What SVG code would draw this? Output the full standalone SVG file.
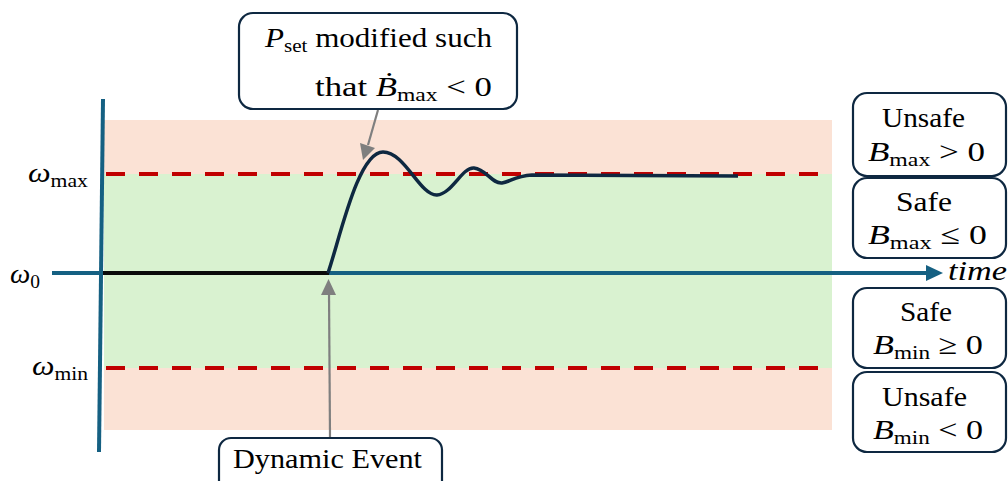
<svg xmlns="http://www.w3.org/2000/svg" width="1008" height="481" viewBox="0 0 1008 481">
<style>
text{font-family:'Liberation Serif',Tinos,'Times New Roman',Times,'Nimbus Roman','Nimbus Roman No9 L',FreeSerif,'Noto Serif','DejaVu Serif','Bitstream Vera Serif',serif;font-size:28px;fill:#000}
.i{font-style:italic}
.s{font-size:19px}
.box{fill:#fff;stroke:#0e2841;stroke-width:2.2}
.axis{stroke:#156082;stroke-width:4;fill:none}
.dash{stroke:#c00000;stroke-width:4;stroke-dasharray:19 14;fill:none}
.ptr{stroke:#7f7f7f;stroke-width:2.2;fill:none}
.ptrh{fill:#7f7f7f}
</style>
<rect width="1008" height="481" fill="#fff"/>
<g id="regions">
<rect x="104" y="120" width="728" height="310" fill="#fbe2d5"/>
<rect x="104" y="174" width="728" height="194" fill="#d9f2d0"/>
<line class="dash" x1="106" y1="174" x2="832" y2="174"/>
<line class="dash" x1="106" y1="368" x2="832" y2="368"/>
</g>
<g id="axes">
<line class="axis" x1="103" y1="99" x2="99" y2="452"/>
<line class="axis" x1="52" y1="273" x2="928" y2="273"/>
<polygon points="926,265 943,273 926,281" fill="#156082"/>
<text class="i" x="948" y="280" textLength="59" lengthAdjust="spacingAndGlyphs">time</text>
</g>
<g id="labels">
<text x="28" y="182" textLength="60" lengthAdjust="spacingAndGlyphs"><tspan class="i">ω</tspan><tspan class="s" dy="5">max</tspan></text>
<text x="10" y="283" textLength="30" lengthAdjust="spacingAndGlyphs"><tspan class="i">ω</tspan><tspan class="s" dy="5">0</tspan></text>
<text x="32" y="375" textLength="56" lengthAdjust="spacingAndGlyphs"><tspan class="i">ω</tspan><tspan class="s" dy="5">min</tspan></text>
</g>
<g id="signal">
<line x1="103" y1="273" x2="329" y2="273" stroke="#0a0a0a" stroke-width="4"/>
<path d="M328,273 C340,238 358,152 383,152 C405,152 420,196 437,195 C452,194 462,167 474,168 C486,169 492,184 502,183 C510,182 515,176 532,175 L738,176" fill="none" stroke="#0e2841" stroke-width="3.5" stroke-linejoin="round"/>
</g>
<g id="connectors">
<line class="ptr" x1="330" y1="437" x2="329" y2="292"/>
<polygon class="ptrh" points="328.5,279 321,295 336,295"/>
<line class="ptr" x1="378" y1="110" x2="368" y2="145"/>
<polygon class="ptrh" points="363,160 360,143 375,148"/>
</g>
<g id="callout-pset">
<rect class="box" x="239" y="13" width="278" height="96" rx="14"/>
<text x="265" y="47" textLength="227" lengthAdjust="spacingAndGlyphs"><tspan class="i">P</tspan><tspan class="s" dy="5">set</tspan><tspan dy="-5"> modified such</tspan></text>
<text x="315" y="96" textLength="177" lengthAdjust="spacingAndGlyphs">that <tspan class="i">Ḃ</tspan><tspan class="s" dy="5">max</tspan><tspan dy="-5"> &lt; 0</tspan></text>
</g>
<g id="dynamic-event">
<rect class="box" x="219" y="438" width="223" height="56" rx="12"/>
<text x="233" y="468" textLength="189" lengthAdjust="spacingAndGlyphs">Dynamic Event</text>
</g>
<g id="unsafe-max">
<rect class="box" x="853" y="93" width="153" height="83" rx="14"/>
<text x="882" y="127" textLength="83" lengthAdjust="spacingAndGlyphs">Unsafe</text>
<text x="868" y="161" textLength="117" lengthAdjust="spacingAndGlyphs"><tspan class="i">B</tspan><tspan class="s" dy="5">max</tspan><tspan dy="-5"> &gt; 0</tspan></text>
</g>
<g id="safe-max">
<rect class="box" x="853" y="178" width="153" height="80" rx="14"/>
<text x="896" y="211" textLength="56" lengthAdjust="spacingAndGlyphs">Safe</text>
<text x="868" y="244" textLength="119" lengthAdjust="spacingAndGlyphs"><tspan class="i">B</tspan><tspan class="s" dy="5">max</tspan><tspan dy="-5"> ≤ 0</tspan></text>
</g>
<g id="safe-min">
<rect class="box" x="853" y="288" width="153" height="80" rx="14"/>
<text x="900" y="321" textLength="52" lengthAdjust="spacingAndGlyphs">Safe</text>
<text x="873" y="354" textLength="110" lengthAdjust="spacingAndGlyphs"><tspan class="i">B</tspan><tspan class="s" dy="5">min</tspan><tspan dy="-5"> ≥ 0</tspan></text>
</g>
<g id="unsafe-min">
<rect class="box" x="853" y="372" width="153" height="80" rx="14"/>
<text x="882" y="406" textLength="85" lengthAdjust="spacingAndGlyphs">Unsafe</text>
<text x="873" y="439" textLength="110" lengthAdjust="spacingAndGlyphs"><tspan class="i">B</tspan><tspan class="s" dy="5">min</tspan><tspan dy="-5"> &lt; 0</tspan></text>
</g>
</svg>
